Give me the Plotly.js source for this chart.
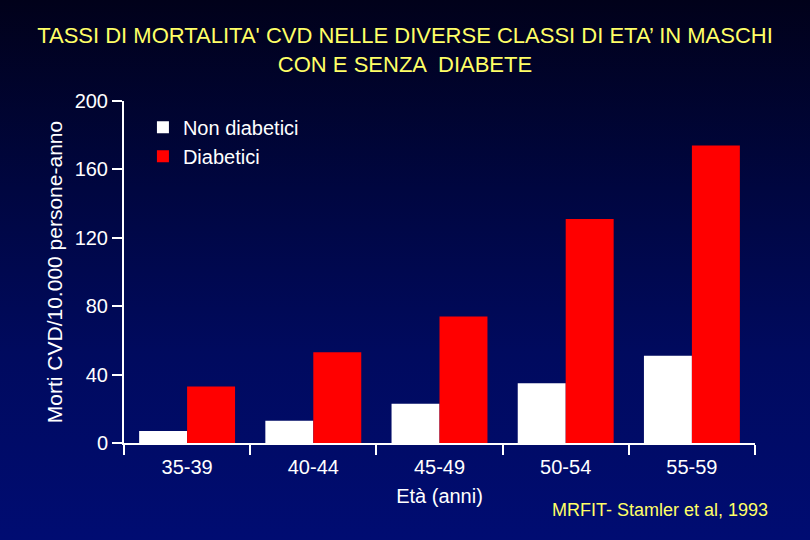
<!DOCTYPE html>
<html>
<head>
<meta charset="utf-8">
<script src="https://cdn.plot.ly/plotly-3.0.1.min.js"></script>
<style>
html,body{margin:0;padding:0;width:810px;height:540px;overflow:hidden;
background:linear-gradient(to bottom,#01011a 0%,#000640 35%,#000a5e 65%,#000c72 100%);}
#chart{width:810px;height:540px;}
</style>
</head>
<body>
<div id="chart"></div>
<script>
const categories = ["35-39", "40-44", "45-49", "50-54", "55-59"];
const nonDiabetici = [7, 13, 23, 35, 51];
const diabetici = [33, 53, 74, 131, 174];
const yTicks = [0, 40, 80, 120, 160, 200];

const sans = '"Liberation Sans", Arial, sans-serif';

const traces = [
  {type: 'bar', name: 'Non diabetici', x: categories, y: nonDiabetici,
   marker: {color: '#ffffff', line: {width: 0}}},
  {type: 'bar', name: 'Diabetici', x: categories, y: diabetici,
   marker: {color: '#ff0000', line: {width: 0}}}
];

const layout = {
  width: 810, height: 540,
  paper_bgcolor: 'rgba(0,0,0,0)', plot_bgcolor: 'rgba(0,0,0,0)',
  margin: {l: 124, r: 55, t: 101, b: 97},
  barmode: 'group', bargap: 0.24, bargroupgap: 0,
  font: {family: sans, color: '#ffffff', size: 19},
  title: {text: "TASSI DI MORTALITA' CVD NELLE DIVERSE CLASSI DI ETA’ IN MASCHI<br>CON E SENZA  DIABETE",
          font: {family: sans, size: 22, color: '#ffff66'},
          x: 0.5, xref: 'container', xanchor: 'center', y: 0.92, yref: 'container', yanchor: 'middle'},
  xaxis: {type: 'category', tickson: 'boundaries', ticks: 'outside', ticklen: 10, tickwidth: 2,
          tickcolor: '#ffffff', showline: true, linecolor: '#ffffff', linewidth: 2,
          showgrid: false, zeroline: false, ticklabelstandoff: 5,
          tickfont: {family: sans, size: 20, color: '#ffffff'},
          title: {text: 'Età (anni)', font: {family: sans, size: 20, color: '#ffffff'}, standoff: 12}},
  yaxis: {range: [0, 200], tickvals: yTicks, ticktext: yTicks.map(String),
          ticks: 'outside', ticklen: 10, tickwidth: 2, tickcolor: '#ffffff',
          showline: true, linecolor: '#ffffff', linewidth: 2, showgrid: false, zeroline: false,
          tickfont: {family: sans, size: 20, color: '#ffffff'},
          title: {text: 'Morti CVD/10.000 persone-anno', font: {family: sans, size: 21, color: '#ffffff'}, standoff: 6}},
  legend: {x: 0.03, y: 0.98, xanchor: 'left', yanchor: 'top', bgcolor: 'rgba(0,0,0,0)',
           font: {family: sans, size: 20, color: '#ffffff'}, traceorder: 'normal',
           tracegroupgap: 0, itemwidth: 30},
  annotations: [
    {text: 'MRFIT- Stamler et al, 1993', xref: 'paper', yref: 'paper',
     x: (660 - 124) / 631, y: (443 - 510) / 342, xanchor: 'center', yanchor: 'middle', showarrow: false,
     font: {family: sans, size: 18, color: '#ffff66'}}
  ]
};

Plotly.newPlot('chart', traces, layout, {staticPlot: true, displayModeBar: false});
</script>
</body>
</html>
